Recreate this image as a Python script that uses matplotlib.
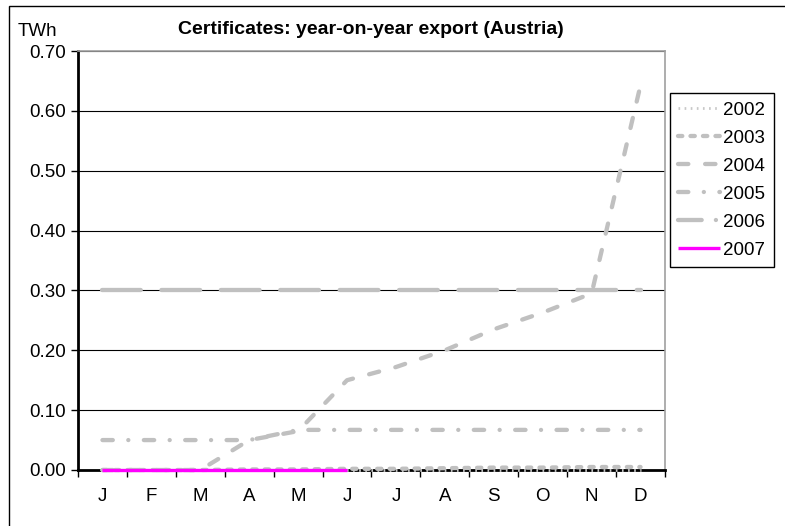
import matplotlib
matplotlib.use("Agg")
import matplotlib.pyplot as plt
from matplotlib.lines import Line2D
from matplotlib.patches import Rectangle
from matplotlib.ticker import FixedLocator, NullFormatter, FormatStrFormatter

months = ['J', 'F', 'M', 'A', 'M', 'J', 'J', 'A', 'S', 'O', 'N', 'D']
y2002 = [0.0, 0.0, 0.0, 0.0, 0.0, 0.0, 0.0, 0.0, 0.0, 0.0, 0.0, 0.0]
y2003 = [0.0, 0.0, 0.0, 0.001, 0.001, 0.002, 0.002, 0.003, 0.004, 0.004, 0.005, 0.005]
y2004 = [0.0, 0.0, 0.0, 0.05, 0.065, 0.15, 0.172, 0.20, 0.235, 0.263, 0.295, 0.643]
y2005 = [0.05, 0.05, 0.05, 0.05, 0.067, 0.067, 0.067, 0.067, 0.067, 0.067, 0.067, 0.067]
y2006 = [0.30, 0.30, 0.30, 0.30, 0.30, 0.30, 0.30, 0.30, 0.30, 0.30, 0.30, 0.30]
y2007 = [0.0, 0.0, 0.0, 0.0, 0.0, 0.0]
years = ['2002', '2003', '2004', '2005', '2006', '2007']

plt.rcParams['font.family'] = ['Liberation Sans', 'DejaVu Sans']

W, H = 785, 526
fig = plt.figure(figsize=(W / 100, H / 100), dpi=100)

# outer chart border
fig.patches.append(Rectangle((9 / W, -0.05), 1.2, 1 - 6 / H + 0.05, transform=fig.transFigure,
                             fill=False, edgecolor='black', linewidth=1.0))

L, R, T, B = 78, 665, 51, 470
ax = fig.add_axes([L / W, 1 - B / H, (R - L) / W, (B - T) / H])

gray = '#C0C0C0'
lw = 3.1
x = list(range(12))
fs = 13.5

styles = {
    '2002': dict(color='#C8C8C8', lw=2.0, ls=(0, (0.6, 1.6)), cap='butt'),
    '2003': dict(color=gray, lw=lw, ls=(0, (1.0, 1.9)), cap='round'),
    '2004': dict(color=gray, lw=lw, ls=(0, (2.4, 3.9)), cap='round'),
    '2005': dict(color=gray, lw=lw, ls=(0, (2.4, 3.6, 0.01, 3.6)), cap='round'),
    '2006': dict(color=gray, lw=lw, ls=(0, (9.0, 4.8)), cap='round'),
    '2007': dict(color='#FF00FF', lw=2.4, ls='-', cap='butt'),
}
data = {'2002': y2002, '2003': y2003, '2004': y2004, '2005': y2005, '2006': y2006, '2007': y2007}

for yr in years:
    s = styles[yr]
    yv = data[yr]
    ax.plot(x[:len(yv)], yv, color=s['color'], lw=s['lw'], linestyle=s['ls'],
            dash_capstyle=s['cap'], solid_capstyle='butt', clip_on=False, zorder=3)

ax.set_xlim(-0.5, 11.5)
ax.set_ylim(0, 0.7)
ax.set_yticks([0.0, 0.1, 0.2, 0.3, 0.4, 0.5, 0.6, 0.7])
ax.yaxis.set_major_formatter(FormatStrFormatter('%.2f'))
ax.yaxis.grid(True, color='black', linewidth=0.8)
ax.set_axisbelow(True)

ax.set_xticks(x)
ax.set_xticklabels(months)
ax.xaxis.set_minor_locator(FixedLocator([i - 0.5 for i in range(13)]))
ax.xaxis.set_minor_formatter(NullFormatter())
ax.tick_params(axis='x', which='major', length=0, pad=13, labelsize=fs)
ax.tick_params(axis='x', which='minor', length=5, width=1, color='black', direction='out')
ax.tick_params(axis='y', which='major', length=5, width=1, color='black', labelsize=fs, pad=4)

for sp in ['top', 'right']:
    ax.spines[sp].set_color('#A0A0A0')
    ax.spines[sp].set_linewidth(1.2)
for sp in ['left', 'bottom']:
    ax.spines[sp].set_color('black')
    ax.spines[sp].set_linewidth(2.0)

fig.text(371 / W, 1 - 29 / H, 'Certificates: year-on-year export (Austria)', ha='center', va='center',
         fontsize=14, fontweight='bold')
fig.text(18 / W, 1 - 31 / H, 'TWh', ha='left', va='center', fontsize=fs)

handles = []
for yr in years:
    s = styles[yr]
    ls = s['ls']
    if yr == '2006':
        ls = (0, (5.5, 3.3, 0.01, 3.3))
    handles.append(Line2D([], [], color=s['color'], lw=s['lw'], linestyle=ls,
                          dash_capstyle=s['cap'], solid_capstyle='butt'))
leg = fig.legend(handles, years, loc='upper left', bbox_to_anchor=(670 / W, 1 - 93 / H),
                 frameon=True, fancybox=False, edgecolor='black', framealpha=1,
                 fontsize=fs, handlelength=2.2, handletextpad=0.2, labelspacing=0.58,
                 borderpad=0.45, borderaxespad=0)
leg.get_frame().set_linewidth(1.0)

fig.savefig('out.png', dpi=100)
